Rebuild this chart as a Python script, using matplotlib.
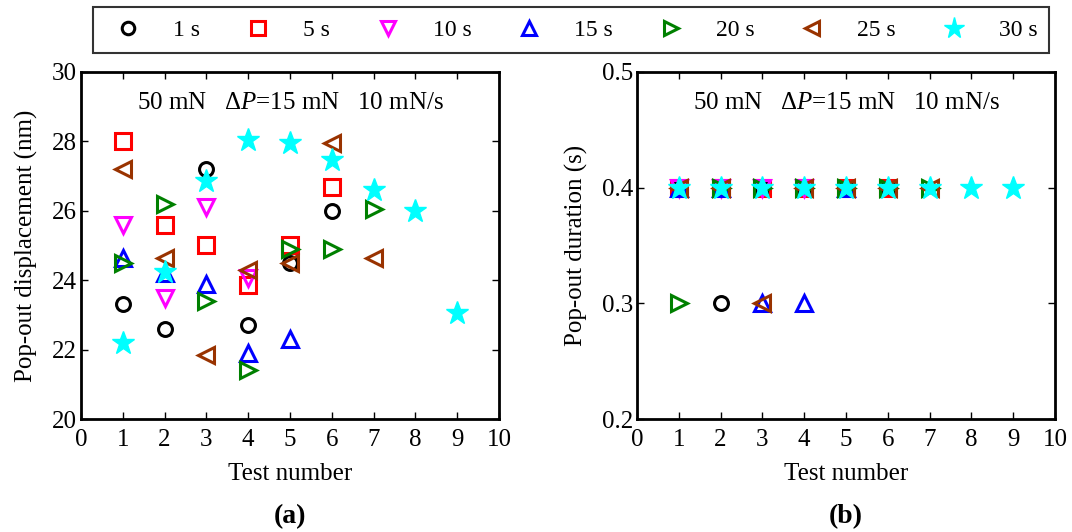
#!/usr/bin/env python3
import matplotlib
matplotlib.use("Agg")
import matplotlib.pyplot as plt

plt.rcParams['font.family'] = ['Liberation Serif', 'DejaVu Serif']
plt.rcParams['mathtext.fontset'] = 'custom'
plt.rcParams['mathtext.rm'] = 'Liberation Serif'
plt.rcParams['mathtext.it'] = 'Liberation Serif:italic'

# hold times (legend labels)
labels = ["1 s", "5 s", "10 s", "15 s", "20 s", "25 s", "30 s"]
colors = ["black", "red", "magenta", "blue", "green", "#993300", "cyan"]
markers = ["o", "s", "v", "^", ">", "<", "*"]

# pop-out displacement (nm), one list per hold time, test number = index + 1
disp_1s = [23.3, 22.6, 27.2, 22.7, 24.5, 26.0]
disp_5s = [28.0, 25.6, 25.0, 23.85, 25.0, 26.7]
disp_10s = [25.6, 23.5, 26.1, 24.05]
disp_15s = [24.65, 24.2, 23.9, 21.9, 22.3]
disp_20s = [24.5, 26.2, 23.4, 21.4, 24.9, 24.9, 26.05]
disp_25s = [27.2, 24.65, 21.85, 24.3, 24.5, 27.95, 24.65]
disp_30s = [22.2, 24.25, 26.85, 28.05, 27.95, 27.45, 26.6, 26.0, 23.05]

# pop-out duration (s)
dur_1s = [0.4, 0.3, 0.4, 0.4, 0.4, 0.4]
dur_5s = [0.4, 0.4, 0.4, 0.4, 0.4, 0.4]
dur_10s = [0.4, 0.4, 0.4, 0.4]
dur_15s = [0.4, 0.4, 0.3, 0.3, 0.4]
dur_20s = [0.3, 0.4, 0.4, 0.4, 0.4, 0.4, 0.4]
dur_25s = [0.4, 0.4, 0.3, 0.4, 0.4, 0.4, 0.4]
dur_30s = [0.4, 0.4, 0.4, 0.4, 0.4, 0.4, 0.4, 0.4, 0.4]

disp = [disp_1s, disp_5s, disp_10s, disp_15s, disp_20s, disp_25s, disp_30s]
dur = [dur_1s, dur_5s, dur_10s, dur_15s, dur_20s, dur_25s, dur_30s]

note = r"50 mN   $\mathrm{\Delta}\mathit{P}$=15 mN   10 mN/s"

fig = plt.figure(figsize=(10.72, 5.32), dpi=100)
ax1 = fig.add_axes([81 / 1072, 1 - 419 / 532, 418 / 1072, 347 / 532])
ax2 = fig.add_axes([637 / 1072, 1 - 419 / 532, 418 / 1072, 347 / 532])


def draw(ax, data):
    handles = []
    for vals, lab, c, m in zip(data, labels, colors, markers):
        x = list(range(1, len(vals) + 1))
        if m == "*":
            h, = ax.plot(x, vals, linestyle="none", marker=m, markersize=17,
                         color=c, markeredgecolor=c, markeredgewidth=1,
                         label=lab)
        else:
            h, = ax.plot(x, vals, linestyle="none", marker=m,
                         markersize=11 if m != "o" else 10,
                         markerfacecolor="none", markeredgecolor=c,
                         markeredgewidth=2.2, label=lab)
        handles.append(h)
    ax.set_xlim(0, 10)
    ax.set_xticks(range(0, 11))
    ax.tick_params(direction="in", top=True, right=True, labelsize=18,
                   length=5, width=1, pad=3)
    ax.tick_params(axis="x", pad=7)
    for s in ax.spines.values():
        s.set_linewidth(2)
    ax.set_xlabel("Test number", fontsize=18, labelpad=9)
    ax.text(0.5, 0.91, note, transform=ax.transAxes, ha="center",
            va="center", fontsize=18)
    return handles


handles = draw(ax1, disp)
ax1.set_ylim(20, 30)
ax1.set_yticks(range(20, 31, 2))
ax1.set_ylabel("Pop-out displacement (nm)", fontsize=18, labelpad=10)

draw(ax2, dur)
ax2.set_ylim(0.2, 0.5)
ax2.set_yticks([0.2, 0.3, 0.4, 0.5])
ax2.set_ylabel("Pop-out duration (s)", fontsize=18, labelpad=10)

leg = fig.legend(handles=handles, loc="center", ncol=7, mode="expand",
                 bbox_to_anchor=(81 / 1072, 1 - 52 / 532, 980 / 1072, 44 / 532),
                 fontsize=17, frameon=True, fancybox=False, borderpad=0.5,
                 handletextpad=0.9, markerscale=0.9)
leg.get_frame().set_edgecolor("black")
leg.get_frame().set_linewidth(1.5)

fig.text(290 / 1072, 1 - 517 / 532, "(a)", ha="center", va="center",
         fontsize=20, fontweight="bold")
fig.text(846 / 1072, 1 - 517 / 532, "(b)", ha="center", va="center",
         fontsize=20, fontweight="bold")

fig.savefig("out.png", dpi=100)
plt.close(fig)
